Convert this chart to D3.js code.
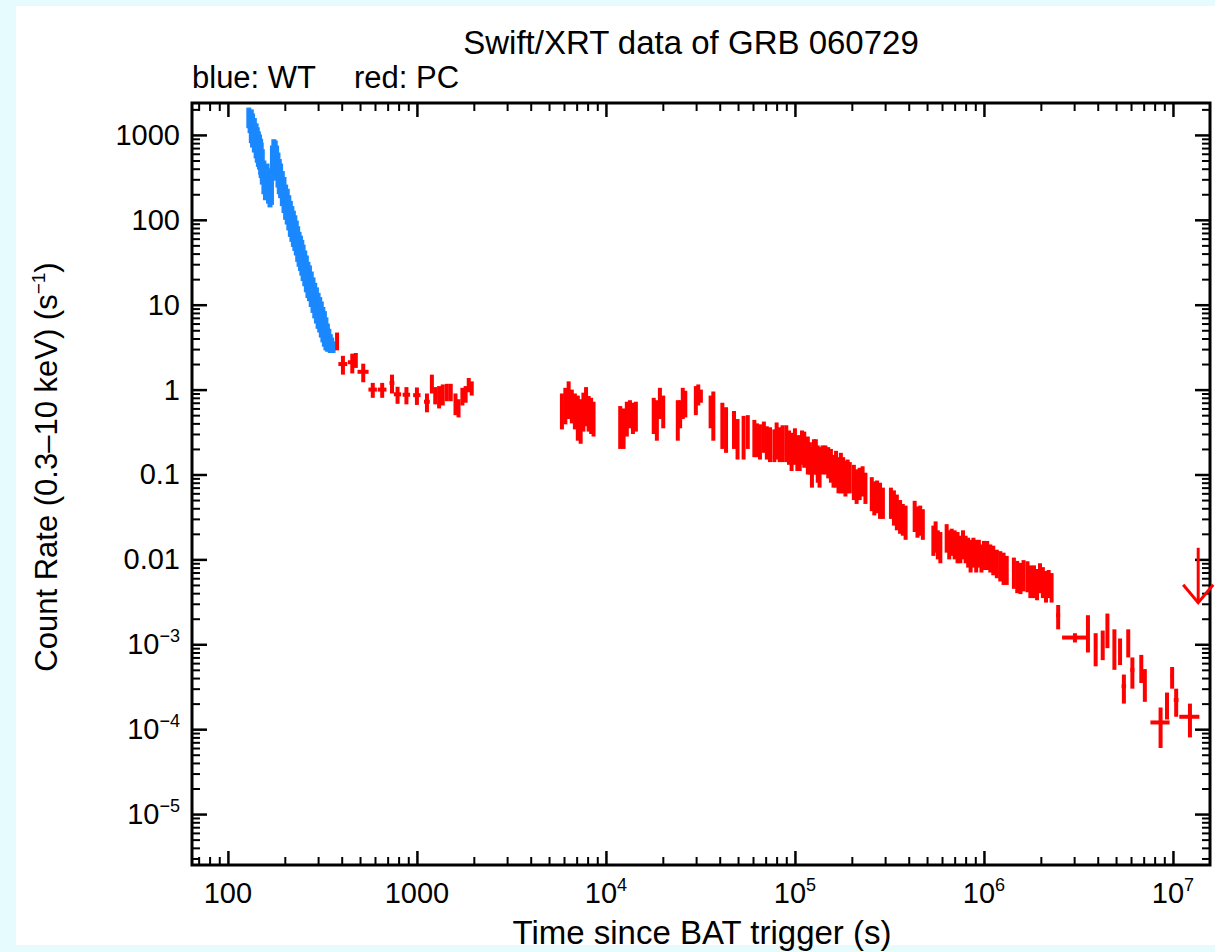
<!DOCTYPE html>
<html><head><meta charset="utf-8">
<script src="https://cdn.jsdelivr.net/npm/d3@7"></script>
<style>body{margin:0;background:#e6fbfd;} svg{display:block}</style>
</head><body><svg id="c" width="1215" height="952"></svg>
<script>
// ---------- data ----------
const titleText = "Swift/XRT data of GRB 060729";
const legendWT = "blue: WT";
const legendPC = "red: PC";
const xTitle = "Time since BAT trigger (s)";

const xMajor = [100, 1000, 1e4, 1e5, 1e6, 1e7];
const xLabelBase = ["100", "1000", "10", "10", "10", "10"];
const xLabelExp = ["", "", "4", "5", "6", "7"];
const yMajor = [1000, 100, 10, 1, 0.1, 0.01, 1e-3, 1e-4, 1e-5];
const yLabelBase = ["1000", "100", "10", "1", "0.1", "0.01", "10", "10", "10"];
const yLabelExp = ["", "", "", "", "", "", "\u22123", "\u22124", "\u22125"];

// WT mode (blue)
const wtTime = [129,131,133,135,138,141,143,145,147,149,150,152,155,158,161,164,167,170,172,175,178,181,184,187,190,194,198,202,206,210,214,218,222,226,230,234,238,242,246,250,255,260,265,270,276,282,288,294,300,306,312,318,324,330,336,342,348,354,360];
const wtTimeErr = [1,1,1,1,1.5,1.5,1,1,1,1,1,1,1.5,1.5,1.5,1.5,1.5,1.5,1.5,1.5,1.5,1.5,1.5,1.5,1.5,2,2,2,2,2,2,2,2,2,2,2,2,2,2,2,2.5,2.5,2.5,2.5,3,3,3,3,3,3,3,3,3,3,3,3,3,3,3];
const wtRate = [1650,1500,1400,1250,1100,950,850,760,700,620,560,470,350,300,320,280,250,270,520,620,600,520,430,360,320,260,220,180,160,135,115,100,88,78,68,58,50,45,40,35,30,26,22,20,17,14.5,12.5,11,9.5,8.5,7.5,6.5,5.8,5.0,4.4,4.0,3.6,3.4,3.2];
const wtRateErr = [450,450,600,540,480,420,380,340,310,280,250,210,150,130,140,125,110,120,230,270,260,230,190,160,140,115,100,80,72,60,52,45,40,35,30,26,22,20,18,16,13.5,12,10,9,7.6,6.5,5.6,5,4.3,3.8,3.4,2.9,2.6,2.1,1.6,1.2,0.9,0.7,0.5];

// PC mode (red)
const pcTime = [378,406,455,475,520,584,655,738,790,880,1000,1130,1200,1250,1310,1370,1440,1510,1600,1660,1740,1810,1880,1950,
 5850,6100,6350,6600,6850,7100,7350,7600,7850,8100,8350,8600,
 11900,12400,12900,13400,13900,14400,
 17900,18600,19300,20100,
 24000,24700,25500,26300,
 29900,30800,31800,
 35800,37000,
 41300,43200,47600,49700,53500,56300,
 61000,63000,65300,68500,71000,73800,77800,80000,83000,86000,90000,93000,96000,100000,103000,106000,109000,112000,117000,120000,123000,126000,129000,132000,135000,140000,145000,150000,155000,160000,165000,170000,175000,180000,185000,190000,195000,
 205000,212000,220000,228000,236000,
 255000,263000,272000,282000,292000,
 322000,334000,346000,360000,372000,385000,
 430000,445000,460000,475000,
 540000,555000,570000,588000,
 635000,655000,675000,700000,725000,750000,775000,800000,825000,850000,880000,910000,940000,970000,1000000,
 1040000,1080000,1120000,1170000,1220000,1270000,1320000,
 1440000,1500000,1560000,1620000,1700000,1760000,1840000,1910000,1980000,2050000,2130000,2200000,2280000,
 2470000,3030000,3550000,3900000,4250000,4500000,4900000,5250000,5500000,5800000,6100000,6800000,7100000,8600000,9300000,9900000,10400000,12300000];
const pcTimeErr = [4,22,24,6,35,30,35,22,35,40,45,40,15,20,20,20,20,25,25,20,25,25,25,25,
 100,100,100,100,100,100,110,110,110,110,110,110,
 150,150,160,160,170,170,
 200,200,200,200,
 250,250,250,250,
 300,300,300,
 350,350,
 400,400,450,450,500,500,
 600,600,600,700,700,700,800,800,800,900,900,900,1000,1000,1000,1100,1100,1100,1200,1200,1200,1300,1300,1300,1400,1400,1500,1500,1600,1600,1700,1700,1800,1800,1900,1900,2000,
 2000,2000,2000,2500,2500,
 2500,2500,2500,3000,3000,
 3000,3000,3000,3500,3500,3500,
 4000,4000,4000,4000,
 5000,5000,5000,5000,
 6000,6000,6000,6000,6000,7000,7000,7000,7000,8000,8000,8000,9000,9000,9000,
 10000,10000,10000,10000,12000,12000,12000,
 15000,15000,15000,15000,15000,15000,15000,15000,15000,20000,20000,20000,20000,
 60000,440000,60000,70000,70000,60000,70000,60000,150000,80000,150000,100000,100000,1000000,200000,200000,300000,1500000];
const pcRate = [3.8,2.0,2.1,2.25,1.62,1.0,1.0,1.2,0.88,0.87,0.86,0.72,1.2,0.87,0.85,0.9,0.95,0.95,0.7,0.62,0.85,0.9,1.15,1.05,
 0.62,0.72,0.85,0.7,0.62,0.55,0.5,0.62,0.72,0.58,0.55,0.5,
 0.42,0.4,0.5,0.55,0.5,0.52,
 0.55,0.5,0.75,0.6,
 0.5,0.55,0.75,0.72,
 0.8,0.9,0.85,
 0.6,0.6,
 0.45,0.4,0.38,0.3,0.32,0.35,
 0.3,0.28,0.27,0.3,0.26,0.25,0.24,0.28,0.25,0.26,0.26,0.23,0.21,0.24,0.2,0.2,0.23,0.22,0.19,0.17,0.14,0.18,0.18,0.15,0.14,0.16,0.16,0.15,0.14,0.12,0.13,0.11,0.12,0.11,0.1,0.105,0.1,
 0.09,0.08,0.085,0.09,0.075,
 0.065,0.058,0.06,0.055,0.05,
 0.05,0.045,0.04,0.035,0.032,0.03,
 0.035,0.03,0.031,0.028,
 0.018,0.02,0.016,0.015,
 0.019,0.016,0.017,0.016,0.015,0.014,0.016,0.014,0.013,0.012,0.013,0.012,0.0125,0.011,0.012,
 0.012,0.011,0.0105,0.0095,0.009,0.0085,0.008,
 0.0075,0.0068,0.0065,0.007,0.0068,0.006,0.006,0.0055,0.0065,0.0058,0.0052,0.0055,0.005,
 0.0022,0.0012,0.0015,0.00095,0.00105,0.0016,0.001,0.00087,0.00032,0.0011,0.0005,0.00055,0.00036,0.00012,0.0002,0.00042,0.00022,0.00014];
const pcRateErr = [0.9,0.5,0.55,0.45,0.4,0.2,0.2,0.3,0.2,0.2,0.2,0.18,0.3,0.2,0.25,0.25,0.22,0.22,0.2,0.15,0.2,0.2,0.22,0.2,
 0.28,0.33,0.4,0.3,0.28,0.3,0.27,0.3,0.35,0.26,0.25,0.22,
 0.22,0.2,0.22,0.2,0.2,0.2,
 0.25,0.25,0.3,0.25,
 0.25,0.2,0.3,0.25,
 0.3,0.25,0.15,
 0.25,0.35,
 0.25,0.22,0.18,0.15,0.17,0.15,
 0.14,0.12,0.12,0.12,0.11,0.11,0.1,0.13,0.11,0.12,0.12,0.1,0.1,0.11,0.09,0.09,0.1,0.1,0.09,0.07,0.07,0.08,0.08,0.07,0.07,0.06,0.06,0.06,0.06,0.05,0.06,0.05,0.06,0.05,0.045,0.045,0.04,
 0.04,0.035,0.035,0.035,0.03,
 0.028,0.025,0.025,0.025,0.02,
 0.02,0.02,0.018,0.015,0.013,0.013,
 0.014,0.012,0.012,0.011,
 0.007,0.008,0.006,0.006,
 0.007,0.006,0.006,0.006,0.006,0.005,0.006,0.005,0.005,0.005,0.005,0.005,0.0045,0.004,0.0045,
 0.0045,0.004,0.004,0.0035,0.0035,0.0035,0.003,
 0.003,0.0028,0.0026,0.0028,0.0027,0.0025,0.0025,0.0022,0.0025,0.0023,0.0021,0.002,0.0019,
 0.0007,0.00015,0.0007,0.0004,0.0004,0.0007,0.0005,0.0003,0.00012,0.0004,0.0002,0.0002,0.00015,0.00006,0.00007,0.00012,0.00008,0.00006];

// upper limit (red arrow)
const ulTime = [13600000];
const ulRate = [0.0137];

// ---------- layout ----------
const W = 1215, H = 952;
const pLeft = 192, pRight = 1210, pTop = 103, pBottom = 865;
const FONT = "'Liberation Sans', Arial, Helvetica, sans-serif";
const BLUE = "#1a88ff", RED = "#ff0000";

const svg = d3.select("#c");
svg.append("rect").attr("x", 16).attr("y", 6).attr("width", W - 16).attr("height", 939).attr("fill", "#ffffff");

const x = d3.scaleLog().domain([Math.pow(10, 1.81), Math.pow(10, 7.196)]).range([pLeft, pRight]);
const y = d3.scaleLog().domain([Math.pow(10, -5.6), Math.pow(10, 3.376)]).range([pBottom, pTop]);

function minorTicks(scale) {
  const [a, b] = scale.domain();
  const out = [];
  for (let e = Math.floor(Math.log10(a)); e <= Math.ceil(Math.log10(b)); e++)
    for (let k = 2; k <= 9; k++) { const v = k * Math.pow(10, e); if (v >= a && v <= b) out.push(v); }
  return out;
}
const allXMajor = d3.range(1, 8).map(e => Math.pow(10, e)).filter(v => v >= x.domain()[0] && v <= x.domain()[1]);
const allYMajor = d3.range(-6, 4).map(e => Math.pow(10, e)).filter(v => v >= y.domain()[0] && v <= y.domain()[1]);

function tickAxis(gen, tr, vals, size, sw) {
  const g = svg.append("g").attr("transform", tr)
    .call(gen.tickValues(vals).tickSize(size).tickSizeOuter(0).tickFormat(""));
  g.select(".domain").remove();
  g.selectAll("line").attr("stroke", "#000").attr("stroke-width", sw);
}
tickAxis(d3.axisBottom(x), `translate(0,${pBottom})`, minorTicks(x), -8, 2);
tickAxis(d3.axisBottom(x), `translate(0,${pBottom})`, allXMajor, -14, 2.5);
tickAxis(d3.axisTop(x), `translate(0,${pTop})`, minorTicks(x), -8, 2);
tickAxis(d3.axisTop(x), `translate(0,${pTop})`, allXMajor, -14, 2.5);
tickAxis(d3.axisLeft(y), `translate(${pLeft},0)`, minorTicks(y), -8, 2);
tickAxis(d3.axisLeft(y), `translate(${pLeft},0)`, allYMajor, -15, 2.5);
tickAxis(d3.axisRight(y), `translate(${pRight},0)`, minorTicks(y), -8, 2);
tickAxis(d3.axisRight(y), `translate(${pRight},0)`, allYMajor, -15, 2.5);

svg.append("rect").attr("x", pLeft).attr("y", pTop).attr("width", pRight - pLeft).attr("height", pBottom - pTop)
  .attr("fill", "none").attr("stroke", "#000").attr("stroke-width", 3);

xMajor.forEach((v, i) => {
  const t = svg.append("text").attr("x", x(v)).attr("y", 903).attr("text-anchor", "middle")
    .attr("font-family", FONT).attr("font-size", 29).attr("fill", "#000");
  t.append("tspan").text(xLabelBase[i]);
  if (xLabelExp[i]) t.append("tspan").attr("font-size", 18).attr("dy", -12).text(xLabelExp[i]);
});
yMajor.forEach((v, i) => {
  const t = svg.append("text").attr("x", 180).attr("y", y(v) + 10).attr("text-anchor", "end")
    .attr("font-family", FONT).attr("font-size", 29).attr("fill", "#000");
  t.append("tspan").text(yLabelBase[i]);
  if (yLabelExp[i]) t.append("tspan").attr("font-size", 18).attr("dy", -12).text(yLabelExp[i]);
});

svg.append("text").attr("x", 691).attr("y", 54).attr("text-anchor", "middle")
  .attr("font-family", FONT).attr("font-size", 33).text(titleText);
svg.append("text").attr("x", 192).attr("y", 88).attr("font-family", FONT).attr("font-size", 31).text(legendWT);
svg.append("text").attr("x", 354).attr("y", 88).attr("font-family", FONT).attr("font-size", 31).text(legendPC);
svg.append("text").attr("x", 702).attr("y", 944).attr("text-anchor", "middle")
  .attr("font-family", FONT).attr("font-size", 33).text(xTitle);
const yt = svg.append("text").attr("transform", "translate(57,467) rotate(-90)").attr("text-anchor", "middle")
  .attr("font-family", FONT).attr("font-size", 31);
yt.append("tspan").text("Count Rate (0.3\u201310 keV) (s");
yt.append("tspan").attr("font-size", 19).attr("dy", -12).text("\u22121");
yt.append("tspan").attr("dy", 12).text(")");

const plot = svg.append("g");
const yMin = y.domain()[0];
function drawSeries(time, terr, rate, rerr, color, sw) {
  const d = time.map((t, i) => ({ t, te: terr[i], r: rate[i], re: rerr[i] }));
  const g = plot.append("g").attr("stroke", color).attr("stroke-width", sw).attr("fill", "none");
  g.selectAll(".v").data(d).enter().append("line")
    .attr("x1", p => x(p.t)).attr("x2", p => x(p.t))
    .attr("y1", p => y(Math.max(p.r - p.re, yMin))).attr("y2", p => y(p.r + p.re));
  g.selectAll(".h").data(d).enter().append("line")
    .attr("x1", p => x(p.t - p.te)).attr("x2", p => x(p.t + p.te))
    .attr("y1", p => y(p.r)).attr("y2", p => y(p.r));
}
drawSeries(wtTime, wtTimeErr, wtRate, wtRateErr, BLUE, 5);
drawSeries(pcTime, pcTimeErr, pcRate, pcRateErr, RED, 4);

ulTime.forEach((t, i) => {
  const px = x(t), py = y(ulRate[i]);
  const g = plot.append("g").attr("stroke", RED).attr("stroke-width", 3).attr("fill", "none");
  g.append("line").attr("x1", px).attr("x2", px).attr("y1", py).attr("y2", py + 55);
  g.append("polyline").attr("points", `${px - 15},${py + 37} ${px},${py + 55} ${px + 15},${py + 37}`);
});
</script></body></html>
